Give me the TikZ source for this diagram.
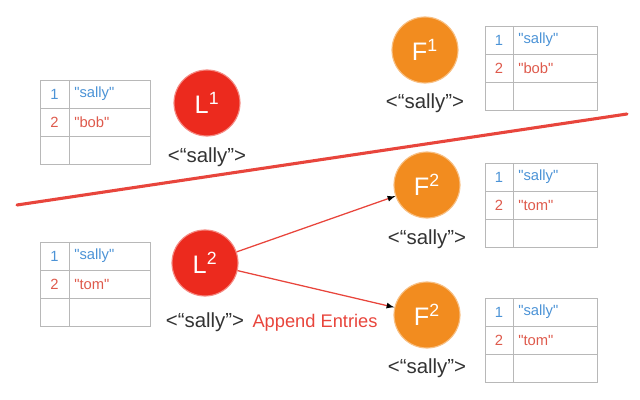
\documentclass[tikz,border=0pt]{standalone}
\usepackage{fontspec}
\setmainfont{Liberation Sans}
\newfontfamily\tabfont{Liberation Sans}[Ligatures=ResetAll]
\usetikzlibrary{positioning,arrows.meta}

\definecolor{leadred}{HTML}{EC2A1E}
\definecolor{follorange}{HTML}{F28C1F}
\definecolor{idxblue}{HTML}{4C93D6}
\definecolor{idxred}{HTML}{DE5A4C}
\definecolor{cutred}{HTML}{E8453C}
\definecolor{gridgray}{HTML}{B8B8B8}
\definecolor{labgray}{HTML}{333333}

\tikzset{
  leader/.style={circle, fill=leadred, draw=leadred!55!white, line width=0.8pt, minimum size=1.65cm, inner sep=0pt, text=white, font=\fontsize{18}{18}\selectfont},
  follower/.style={circle, fill=follorange, draw=follorange!55!white, line width=0.8pt, minimum size=1.65cm, inner sep=0pt, text=white, font=\fontsize{18}{18}\selectfont},
  termlab/.style={text=labgray, font=\fontsize{14.5}{15}\selectfont, inner sep=1pt},
  tabline/.style={draw=gridgray, line width=0.6pt},
  idx/.style={font=\tabfont\fontsize{10.5}{11}\selectfont, inner sep=0pt},
  entry/.style={font=\tabfont\fontsize{10.5}{11}\selectfont, inner sep=0pt, anchor=west},
}

% log table: name, left x, top y, width, first col width, second entry
\newcommand{\logtab}[6]{%
  \draw[tabline] (#2,#3) rectangle ++(#4,84);
  \draw[tabline] (#2+#5,#3) -- ++(0,84);
  \draw[tabline] (#2,#3+28) -- ++(#4,0);
  \draw[tabline] (#2,#3+56) -- ++(#4,0);
  \node[idx, text=idxblue] (#1-i1) at (#2+#5/2,#3+14) {1};
  \node[entry, text=idxblue] (#1-e1) at (#2+#5+5,#3+14) {"sally"};
  \node[idx, text=idxred] (#1-i2) at (#2+#5/2,#3+42) {2};
  \node[entry, text=idxred] (#1-e2) at (#2+#5+5,#3+42) {"#6"};
}

\begin{document}
\begin{tikzpicture}[x=0.025cm, y=-0.025cm, >=latex]
  \useasboundingbox (0,0) rectangle (640,400);

  % term 1 (old leader, cut off)
  \node[leader] (l1) at (207,103) {L\textsuperscript{1}};
  \node[termlab] (l1t) at (207,157) {<“sally”>};
  \node[follower] (f1) at (425,50) {F\textsuperscript{1}};
  \node[termlab] (f1t) at (425,103) {<“sally”>};
  \logtab{tl1}{40}{80}{110}{29}{bob}
  \logtab{tf1}{485}{26}{112}{28}{bob}

  % partition
  \coordinate (cutl) at (17,205);
  \coordinate (cutr) at (627,114);
  \draw[cutred, line width=2.2pt, line cap=round] (cutl) -- (cutr);

  % term 2
  \node[leader] (l2) at (205,263) {L\textsuperscript{2}};
  \node[termlab] (l2t) at (205,322) {<“sally”>};
  \node[follower] (f2a) at (427,185) {F\textsuperscript{2}};
  \node[termlab] (f2at) at (427,239) {<“sally”>};
  \node[follower] (f2b) at (427,315) {F\textsuperscript{2}};
  \node[termlab] (f2bt) at (427,368) {<“sally”>};
  \logtab{tl2}{40}{242}{110}{29}{tom}
  \logtab{tf2a}{485}{163}{112}{28}{tom}
  \logtab{tf2b}{485}{298}{112}{28}{tom}

  \path[->, draw=cutred, line width=0.9pt] (l2) edge (f2a);
  \path[->, draw=cutred, line width=0.9pt] (l2) edge (f2b);
  \node[text=cutred, font=\fontsize{13}{13}\selectfont, inner sep=0pt] (ae) at (315,323) {Append Entries};
\end{tikzpicture}
\end{document}
